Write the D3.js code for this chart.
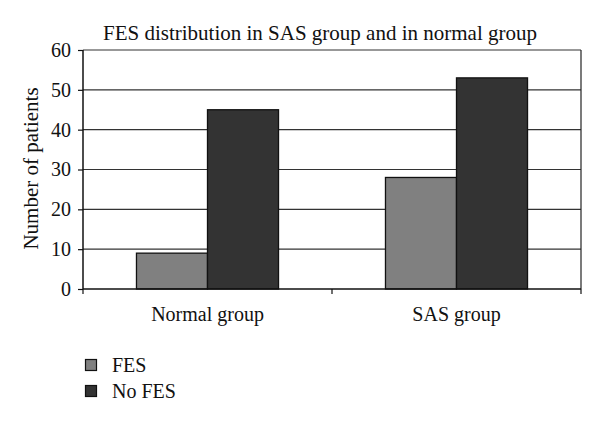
<!DOCTYPE html>
<html><head><meta charset="utf-8">
<script src="https://cdn.jsdelivr.net/npm/d3@7"></script>
<style>body{margin:0;background:#fff}svg{display:block}text{font-family:"Liberation Serif","DejaVu Serif",serif;fill:#111}</style>
</head><body><svg id="c" width="600" height="422"></svg>
<script>
const categories = ["Normal group", "SAS group"];
const seriesNames = ["FES", "No FES"];
const fesValues = [9, 28];
const noFesValues = [45, 53];
const yTicks = [0, 10, 20, 30, 40, 50, 60];
const colors = ["#808080", "#333333"];

const svg = d3.select("#c");
const m = {left: 83, right: 581, top: 50, bottom: 289};
const x = d3.scaleBand().domain(categories).range([m.left, m.right]).paddingInner(0).paddingOuter(0);
const x1 = d3.scaleBand().domain(seriesNames).range([0, x.bandwidth()]).paddingInner(0).paddingOuter(0.753);
const y = d3.scaleLinear().domain([0, 60]).range([m.bottom, m.top]);

// gridlines
svg.append("g").selectAll("line").data(yTicks.filter(d => d > 0)).join("line")
  .attr("x1", m.left).attr("x2", m.right).attr("y1", d => y(d)).attr("y2", d => y(d))
  .attr("stroke", "#333").attr("stroke-width", 1.2);
// right border
svg.append("line").attr("x1", m.right).attr("x2", m.right).attr("y1", m.top).attr("y2", m.bottom)
  .attr("stroke", "#222").attr("stroke-width", 1.2);

const data = categories.map((c, i) => ({c, vals: [fesValues[i], noFesValues[i]]}));
svg.append("g").selectAll("g").data(data).join("g")
  .attr("transform", d => `translate(${x(d.c)},0)`)
  .selectAll("rect").data(d => d.vals.map((v, j) => ({v, s: seriesNames[j], j}))).join("rect")
  .attr("x", d => x1(d.s)).attr("width", x1.bandwidth())
  .attr("y", d => y(d.v)).attr("height", d => y(0) - y(d.v))
  .attr("fill", d => colors[d.j]).attr("stroke", "#111").attr("stroke-width", 1.3);

// y axis
const ya = svg.append("g").attr("transform", `translate(${m.left},0)`)
  .call(d3.axisLeft(y).tickValues(yTicks).tickSize(5).tickPadding(7));
ya.select(".domain").attr("stroke", "#111").attr("stroke-width", 1.5).attr("d", `M0,${m.top}V${m.bottom}`);
ya.selectAll(".tick line").attr("stroke", "#111").attr("stroke-width", 1.2);
ya.selectAll("text").style("font-size", "20px").attr("fill", "#111");

// x axis
const xa = svg.append("g").attr("transform", `translate(0,${m.bottom})`)
  .call(d3.axisBottom(x).tickSize(0).tickPadding(18));
xa.select(".domain").attr("stroke", "#111").attr("stroke-width", 1.5).attr("d", `M${m.left},0H${m.right}`);
xa.selectAll("text").style("font-size", "20px").attr("fill", "#111");
svg.append("g").selectAll("line").data([m.left, x(categories[1]), m.right]).join("line")
  .attr("x1", d => d).attr("x2", d => d).attr("y1", m.bottom).attr("y2", m.bottom + 5)
  .attr("stroke", "#111").attr("stroke-width", 1.2);

// title
svg.append("text").attr("x", 320).attr("y", 40).attr("text-anchor", "middle")
  .style("font-size", "21px").text("FES distribution in SAS group and in normal group");
// y label
svg.append("text").attr("transform", `translate(38,${(m.top + m.bottom) / 2 - 1}) rotate(-90)`)
  .attr("text-anchor", "middle").style("font-size", "21px").text("Number of patients");

// legend
const lg = svg.append("g").selectAll("g").data(seriesNames).join("g")
  .attr("transform", (d, i) => `translate(85.5,${359.5 + i * 26})`);
lg.append("rect").attr("width", 11).attr("height", 11)
  .attr("fill", (d, i) => colors[i]).attr("stroke", "#111").attr("stroke-width", 1.2);
lg.append("text").attr("x", 26.5).attr("y", 12.5).style("font-size", "20px").text(d => d);
</script></body></html>
